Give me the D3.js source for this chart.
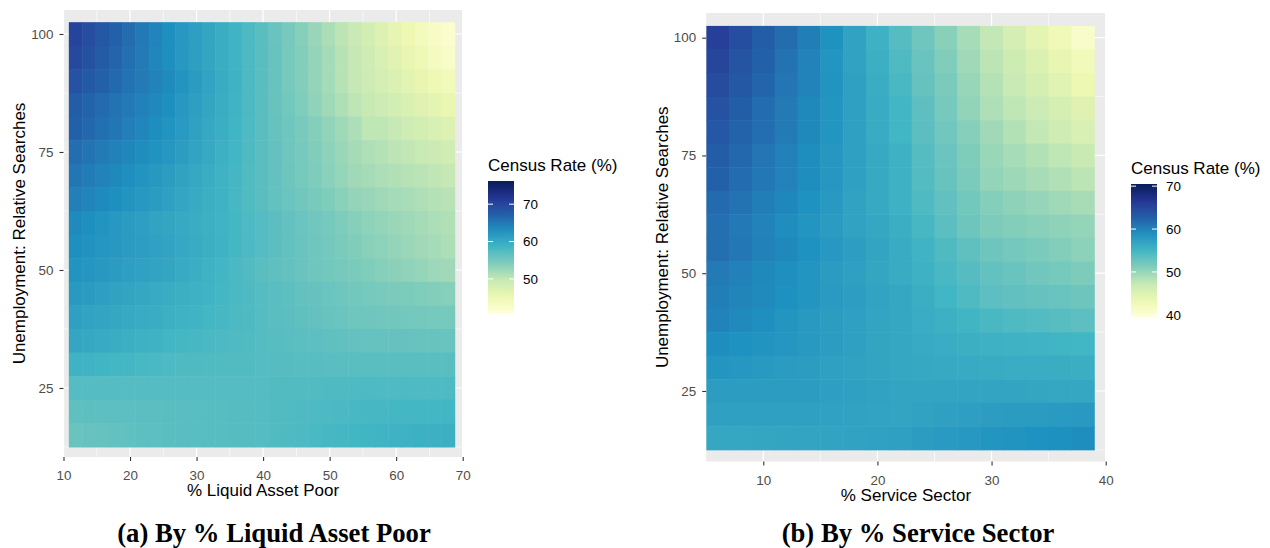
<!DOCTYPE html>
<html>
<head>
<meta charset="utf-8">
<script src="https://cdn.jsdelivr.net/npm/d3@7"></script>
<style>
  body { margin: 0; background: #ffffff; }
  svg { display: block; font-family: 'Liberation Sans', Arial, sans-serif; }
</style>
</head>
<body>
<div id="graf"></div>
<script>
// Two heat maps of the census response rate (%)
// rows = unemployment relative searches, columns = % liquid asset poor / % service sector

// ---- data ----
const searchY = [100, 95, 90, 85, 80, 75, 70, 65, 60, 55, 50, 45, 40, 35, 30, 25, 20, 15]

const liquidX = [11.8, 13.8, 15.8, 17.8, 19.8, 21.8, 23.8, 25.8, 27.8, 29.8, 31.8, 33.8, 35.8, 37.8, 39.8,
                 41.8, 43.8, 45.8, 47.8, 49.8, 51.8, 53.8, 55.8, 57.8, 59.8, 61.8, 63.8, 65.8, 67.8]

const serviceX = [6, 8, 10, 12, 14, 16, 18, 20, 22, 24, 26, 28, 30, 32, 34, 36, 38]

// one row per searchY value, one column per liquidX value
const liquidRate = [
  [70.1, 69.1, 68.1, 67.1, 66.0, 65.0, 64.0, 63.0, 62.1, 61.3, 60.4, 59.6, 58.7, 57.9, 57.0, 55.9, 54.8, 53.7, 52.6, 51.5, 50.4, 49.4, 48.3, 47.2, 46.1, 45.1, 44.0, 42.9, 41.9],
  [69.6, 68.7, 67.7, 66.8, 65.8, 64.9, 63.9, 63.0, 62.1, 61.3, 60.4, 59.6, 58.7, 57.9, 57.0, 56.0, 54.9, 53.9, 52.9, 51.9, 50.8, 49.8, 48.8, 47.7, 46.7, 45.7, 44.7, 43.6, 42.6],
  [68.6, 67.9, 67.1, 66.4, 65.6, 64.9, 64.1, 63.4, 62.5, 61.6, 60.7, 59.7, 58.8, 57.9, 57.0, 56.0, 54.9, 53.9, 52.9, 51.9, 50.8, 49.8, 49.0, 48.2, 47.4, 46.5, 45.7, 44.9, 44.1],
  [67.6, 66.9, 66.3, 65.6, 65.0, 64.3, 63.7, 63.0, 62.1, 61.3, 60.4, 59.6, 58.7, 57.9, 57.0, 56.0, 55.1, 54.1, 53.2, 52.2, 51.3, 50.3, 49.6, 49.0, 48.3, 47.6, 46.9, 46.3, 45.6],
  [67.1, 66.5, 65.8, 65.2, 64.5, 63.9, 63.2, 62.6, 61.8, 61.0, 60.2, 59.4, 58.6, 57.8, 57.0, 56.2, 55.4, 54.6, 53.8, 53.0, 52.2, 51.4, 50.2, 50.2, 49.6, 48.9, 48.3, 47.7, 47.1],
  [65.9, 65.4, 64.8, 64.3, 63.8, 63.3, 62.7, 62.2, 61.5, 60.7, 60.0, 59.2, 58.5, 57.7, 57.0, 56.3, 55.5, 54.8, 54.0, 53.3, 52.5, 51.8, 51.3, 50.9, 50.4, 50.0, 49.5, 49.1, 48.6],
  [65.2, 64.7, 64.1, 63.6, 63.1, 62.6, 62.0, 61.5, 60.9, 60.2, 59.6, 58.9, 58.3, 57.6, 57.0, 56.3, 55.6, 54.9, 54.2, 53.5, 52.8, 52.1, 51.8, 51.4, 51.1, 50.8, 50.5, 50.1, 49.8],
  [64.5, 64.0, 63.5, 63.0, 62.6, 62.1, 61.6, 61.1, 60.5, 59.9, 59.3, 58.8, 58.2, 57.6, 57.0, 56.4, 55.8, 55.2, 54.7, 54.1, 53.5, 52.9, 52.6, 52.2, 51.9, 51.6, 51.3, 50.9, 50.6],
  [63.4, 63.0, 62.5, 62.1, 61.7, 61.3, 60.8, 60.4, 60.0, 59.5, 59.1, 58.7, 58.3, 57.8, 57.4, 56.9, 56.3, 55.8, 55.3, 54.8, 54.2, 53.7, 53.3, 52.9, 52.5, 52.2, 51.8, 51.4, 51.0],
  [63.0, 62.7, 62.3, 62.0, 61.7, 61.4, 61.0, 60.7, 60.2, 59.8, 59.3, 58.8, 58.3, 57.9, 57.4, 56.9, 56.4, 55.9, 55.5, 55.0, 54.5, 54.0, 53.6, 53.3, 52.9, 52.5, 52.1, 51.8, 51.4],
  [62.6, 62.3, 62.0, 61.7, 61.3, 61.0, 60.7, 60.4, 59.9, 59.4, 58.9, 58.5, 58.0, 57.5, 57.0, 56.6, 56.3, 55.9, 55.5, 55.1, 54.8, 54.4, 54.1, 53.7, 53.4, 53.1, 52.8, 52.4, 52.1],
  [61.9, 61.6, 61.2, 60.9, 60.6, 60.3, 59.9, 59.6, 59.3, 59.0, 58.7, 58.3, 58.0, 57.7, 57.4, 57.1, 56.7, 56.4, 56.1, 55.8, 55.4, 55.1, 54.9, 54.7, 54.5, 54.3, 54.1, 53.9, 53.7],
  [61.1, 60.8, 60.6, 60.3, 60.0, 59.7, 59.5, 59.2, 58.9, 58.7, 58.4, 58.2, 57.9, 57.7, 57.4, 57.1, 56.9, 56.6, 56.3, 56.0, 55.8, 55.5, 55.4, 55.3, 55.2, 55.1, 55.0, 54.9, 54.8],
  [60.4, 60.1, 59.9, 59.6, 59.3, 59.0, 58.8, 58.5, 58.3, 58.2, 58.0, 57.9, 57.7, 57.6, 57.4, 57.2, 57.1, 56.9, 56.8, 56.6, 56.5, 56.3, 56.2, 56.2, 56.1, 56.1, 56.0, 56.0, 55.9],
  [58.9, 58.7, 58.6, 58.4, 58.3, 58.1, 58.0, 57.8, 57.7, 57.7, 57.6, 57.6, 57.5, 57.5, 57.4, 57.3, 57.3, 57.2, 57.2, 57.1, 57.1, 57.0, 57.0, 57.0, 57.0, 57.0, 57.0, 57.0, 57.0],
  [57.4, 57.4, 57.4, 57.4, 57.4, 57.4, 57.4, 57.4, 57.4, 57.4, 57.4, 57.4, 57.4, 57.4, 57.4, 57.5, 57.5, 57.6, 57.6, 57.7, 57.7, 57.8, 57.8, 57.8, 57.8, 57.8, 57.8, 57.8, 57.8],
  [56.6, 56.7, 56.7, 56.8, 56.8, 56.9, 56.9, 57.0, 57.1, 57.1, 57.2, 57.2, 57.3, 57.3, 57.4, 57.5, 57.6, 57.7, 57.8, 57.9, 58.0, 58.1, 58.2, 58.2, 58.3, 58.3, 58.4, 58.4, 58.5],
  [55.9, 56.1, 56.2, 56.4, 56.5, 56.7, 56.8, 57.0, 57.1, 57.1, 57.2, 57.2, 57.3, 57.3, 57.4, 57.6, 57.7, 57.9, 58.0, 58.2, 58.3, 58.5, 58.6, 58.7, 58.8, 59.0, 59.1, 59.2, 59.3]
]

// one row per searchY value, one column per serviceX value
const serviceRate = [
  [65.5, 64.2, 62.9, 61.6, 60.3, 58.7, 57.1, 55.5, 53.9, 52.3, 50.7, 49.1, 47.5, 45.9, 44.3, 42.6, 41.0],
  [65.0, 63.7, 62.5, 61.2, 59.9, 58.5, 57.1, 55.7, 54.3, 52.7, 51.1, 49.5, 47.9, 46.6, 45.2, 43.9, 42.5],
  [64.4, 63.3, 62.2, 61.0, 59.9, 58.6, 57.3, 55.9, 54.6, 53.0, 51.5, 49.9, 48.3, 47.1, 45.8, 44.6, 43.3],
  [63.9, 62.8, 61.7, 60.6, 59.5, 58.4, 57.3, 56.1, 55.0, 53.4, 51.8, 50.2, 48.6, 47.7, 46.7, 45.8, 44.8],
  [63.4, 62.4, 61.5, 60.5, 59.5, 58.4, 57.3, 56.1, 55.0, 53.6, 52.2, 50.8, 49.4, 48.4, 47.5, 46.5, 45.5],
  [62.9, 62.0, 61.0, 60.1, 59.1, 58.2, 57.3, 56.3, 55.4, 54.0, 52.6, 51.2, 49.8, 49.1, 48.4, 47.7, 47.0],
  [62.5, 61.7, 60.8, 60.0, 59.1, 58.2, 57.3, 56.3, 55.4, 54.1, 52.8, 51.4, 50.1, 49.6, 49.0, 48.5, 47.9],
  [61.8, 61.1, 60.3, 59.6, 58.8, 58.0, 57.1, 56.3, 55.4, 54.3, 53.2, 52.0, 50.9, 50.4, 50.0, 49.5, 49.0],
  [61.4, 60.7, 59.9, 59.2, 58.4, 57.8, 57.1, 56.5, 55.8, 54.7, 53.6, 52.4, 51.3, 51.0, 50.7, 50.4, 50.1],
  [61.4, 60.8, 60.1, 59.5, 58.8, 58.1, 57.5, 56.8, 56.1, 55.2, 54.3, 53.3, 52.4, 51.9, 51.5, 51.0, 50.5],
  [60.6, 60.1, 59.5, 59.0, 58.4, 57.8, 57.3, 56.7, 56.1, 55.4, 54.6, 53.9, 53.1, 52.7, 52.2, 51.8, 51.3],
  [60.3, 59.8, 59.4, 58.9, 58.4, 57.9, 57.5, 57.0, 56.5, 55.8, 55.0, 54.3, 53.5, 53.2, 53.0, 52.7, 52.4],
  [59.9, 59.4, 59.0, 58.5, 58.0, 57.6, 57.3, 56.9, 56.5, 56.0, 55.6, 55.1, 54.6, 54.3, 54.1, 53.8, 53.5],
  [59.1, 58.8, 58.6, 58.3, 58.0, 57.6, 57.3, 56.9, 56.5, 56.2, 56.0, 55.7, 55.4, 55.3, 55.2, 55.1, 55.0],
  [58.4, 58.2, 58.0, 57.8, 57.6, 57.3, 57.1, 56.8, 56.5, 56.4, 56.3, 56.2, 56.1, 56.0, 56.0, 55.9, 55.8],
  [57.6, 57.6, 57.6, 57.6, 57.6, 57.4, 57.3, 57.1, 56.9, 56.9, 56.9, 56.9, 56.9, 56.8, 56.7, 56.6, 56.5],
  [57.3, 57.3, 57.3, 57.3, 57.3, 57.2, 57.1, 57.0, 56.9, 57.1, 57.3, 57.4, 57.6, 57.7, 57.8, 57.9, 58.0],
  [56.5, 56.6, 56.7, 56.8, 56.9, 57.0, 57.1, 57.2, 57.3, 57.6, 57.9, 58.1, 58.4, 58.6, 58.8, 58.9, 59.1]
]

const liquidTicks  = [10, 20, 30, 40, 50, 60, 70]
const serviceTicks = [10, 20, 30, 40]
const searchTicks  = [25, 50, 75, 100]

// fill limits shown by the colour bars and their labelled breaks
const liquidLegendRange   = [40.8, 76.2]
const serviceLegendRange  = [39.5, 70.5]
const liquidLegendBreaks  = [50, 60, 70]
const serviceLegendBreaks = [40, 50, 60, 70]

const ylgnbu = ['#ffffd9', '#edf8b1', '#c7e9b4', '#7fcdbb', '#41b6c4', '#1d91c0', '#225ea8', '#253494', '#081d58']

const xTitles  = ['% Liquid Asset Poor', '% Service Sector']
const yTitle   = 'Unemployment: Relative Searches'
const legTitle = 'Census Rate (%)'
const captions = ['(a) By % Liquid Asset Poor', '(b) By % Service Sector']

// quick check that the grids are complete
liquidRate.forEach((r, i) => { if (r.length !== liquidX.length) throw new Error('liquid row ' + i + ' has ' + r.length) })
serviceRate.forEach((r, i) => { if (r.length !== serviceX.length) throw new Error('service row ' + i + ' has ' + r.length) })

// ---- setup ----
const W = 1270, H = 548
const svg = d3.select('#graf').append('svg')
              .attr('width', W)
              .attr('height', H)

const interp = d3.piecewise(d3.interpolateLab, ylgnbu)

const panels = [
  { id: 'a', xs: liquidX, rates: liquidRate, xDomain: [10, 70], yDomain: [10.38, 105.08],
    left: 63.5, right: 462.7, top: 10, bottom: 457,
    xTicks: liquidTicks, xTitle: xTitles[0],
    legRange: liquidLegendRange, legBreaks: liquidLegendBreaks,
    legX: 488, legTitleY: 171, barTop: 181, barBottom: 313.3,
    caption: captions[0], capX: 274 },
  { id: 'b', xs: serviceX, rates: serviceRate, xDomain: [5, 40], yDomain: [10.03, 105.24],
    left: 706.2, right: 1105.7, top: 13, bottom: 461.5,
    xTicks: serviceTicks, xTitle: xTitles[1],
    legRange: serviceLegendRange, legBreaks: serviceLegendBreaks,
    legX: 1131, legTitleY: 174, barTop: 184, barBottom: 317,
    caption: captions[1], capX: 918 }
]

panels.forEach(drawPanel)

function drawPanel(p) {
  const x = d3.scaleLinear().domain(p.xDomain).range([p.left, p.right])
  const y = d3.scaleLinear().domain(p.yDomain).range([p.bottom, p.top])
  const color = d3.scaleSequential(interp).domain(p.legRange)

  const g = svg.append('g')

  // grey panel
  g.append('rect')
    .attr('x', p.left).attr('y', p.top)
    .attr('width', p.right - p.left).attr('height', p.bottom - p.top)
    .attr('fill', '#ebebeb')

  // grid lines (minor half way between majors)
  const xStep = p.xTicks[1] - p.xTicks[0]
  const yStep = searchTicks[1] - searchTicks[0]
  const xMinor = p.xTicks.map(v => v - xStep / 2).filter(v => v > p.xDomain[0] && v < p.xDomain[1])
  const yMinor = searchTicks.map(v => v - yStep / 2).filter(v => v > p.yDomain[0] && v < p.yDomain[1])

  xMinor.forEach(v => g.append('line')
    .attr('x1', x(v)).attr('x2', x(v)).attr('y1', p.top).attr('y2', p.bottom)
    .attr('stroke', '#fff').attr('stroke-width', 0.6))
  yMinor.forEach(v => g.append('line')
    .attr('x1', p.left).attr('x2', p.right).attr('y1', y(v)).attr('y2', y(v))
    .attr('stroke', '#fff').attr('stroke-width', 0.6))
  p.xTicks.forEach(v => g.append('line')
    .attr('x1', x(v)).attr('x2', x(v)).attr('y1', p.top).attr('y2', p.bottom)
    .attr('stroke', '#fff').attr('stroke-width', 1.2))
  searchTicks.forEach(v => g.append('line')
    .attr('x1', p.left).attr('x2', p.right).attr('y1', y(v)).attr('y2', y(v))
    .attr('stroke', '#fff').attr('stroke-width', 1.2))

  // clip
  g.append('clipPath').attr('id', 'clip-' + p.id)
    .append('rect')
    .attr('x', p.left).attr('y', p.top)
    .attr('width', p.right - p.left).attr('height', p.bottom - p.top)

  // tiles
  const hw = (p.xs[1] - p.xs[0]) / 2
  const hh = (searchY[0] - searchY[1]) / 2
  const cells = []
  p.rates.forEach((row, i) => row.forEach((v, j) => cells.push({ x: p.xs[j], y: searchY[i], v: v })))

  g.append('g')
    .attr('clip-path', `url(#clip-${p.id})`)
    .selectAll('rect')
    .data(cells)
    .enter()
    .append('rect')
      .attr('x', d => x(d.x - hw))
      .attr('y', d => y(d.y + hh))
      .attr('width', d => x(d.x + hw) - x(d.x - hw) + 0.5)
      .attr('height', d => y(d.y - hh) - y(d.y + hh) + 0.5)
      .attr('fill', d => color(d.v))

  // axes
  const xAxis = d3.axisBottom(x).tickValues(p.xTicks).tickSize(4).tickPadding(9.5)
  const yAxis = d3.axisLeft(y).tickValues(searchTicks).tickSize(4).tickPadding(6)

  const gx = g.append('g').attr('transform', `translate(0,${p.bottom})`).call(xAxis)
  const gy = g.append('g').attr('transform', `translate(${p.left},0)`).call(yAxis)
  ;[gx, gy].forEach(a => {
    a.select('.domain').remove()
    a.selectAll('.tick line').attr('stroke', '#333333').attr('stroke-width', 1.1)
    a.selectAll('.tick text')
      .attr('fill', '#4d4d4d')
      .attr('font-size', '13.4px')
      .attr('font-family', 'Liberation Sans, Arial, sans-serif')
  })

  // axis titles
  g.append('text')
    .attr('x', (p.left + p.right) / 2)
    .attr('y', p.bottom + 39)
    .attr('text-anchor', 'middle')
    .attr('font-size', '17px')
    .attr('fill', '#000')
    .text(p.xTitle)

  g.append('text')
    .attr('transform', `translate(${p.left - 38.5},${(p.top + p.bottom) / 2}) rotate(-90)`)
    .attr('text-anchor', 'middle')
    .attr('font-size', '17px')
    .attr('fill', '#000')
    .text(yTitle)

  // colour bar legend
  const gradId = 'grad-' + p.id
  const grad = svg.append('defs').append('linearGradient')
    .attr('id', gradId)
    .attr('x1', 0).attr('y1', 1).attr('x2', 0).attr('y2', 0)
  d3.range(0, 21).forEach(i => {
    grad.append('stop')
      .attr('offset', i / 20)
      .attr('stop-color', interp(i / 20))
  })

  const barW = 26
  const yl = d3.scaleLinear().domain(p.legRange).range([p.barBottom, p.barTop])

  g.append('text')
    .attr('x', p.legX)
    .attr('y', p.legTitleY)
    .attr('font-size', '17px')
    .attr('fill', '#000')
    .text(legTitle)

  g.append('rect')
    .attr('x', p.legX).attr('y', p.barTop)
    .attr('width', barW).attr('height', p.barBottom - p.barTop)
    .attr('fill', `url(#${gradId})`)

  p.legBreaks.forEach(b => {
    g.append('line')
      .attr('x1', p.legX).attr('x2', p.legX + 5)
      .attr('y1', yl(b)).attr('y2', yl(b))
      .attr('stroke', '#fff').attr('stroke-width', 1)
    g.append('line')
      .attr('x1', p.legX + barW - 5).attr('x2', p.legX + barW)
      .attr('y1', yl(b)).attr('y2', yl(b))
      .attr('stroke', '#fff').attr('stroke-width', 1)
    g.append('text')
      .attr('x', p.legX + barW + 9)
      .attr('y', yl(b))
      .attr('dy', '0.35em')
      .attr('font-size', '13.4px')
      .attr('fill', '#000')
      .text(b)
  })

  // caption under the panel
  g.append('text')
    .attr('x', p.capX)
    .attr('y', 542)
    .attr('text-anchor', 'middle')
    .attr('font-family', 'Liberation Serif, Times New Roman, serif')
    .attr('font-weight', 'bold')
    .attr('font-size', '26.7px')
    .attr('fill', '#000')
    .text(p.caption)
}
</script>
</body>
</html>
